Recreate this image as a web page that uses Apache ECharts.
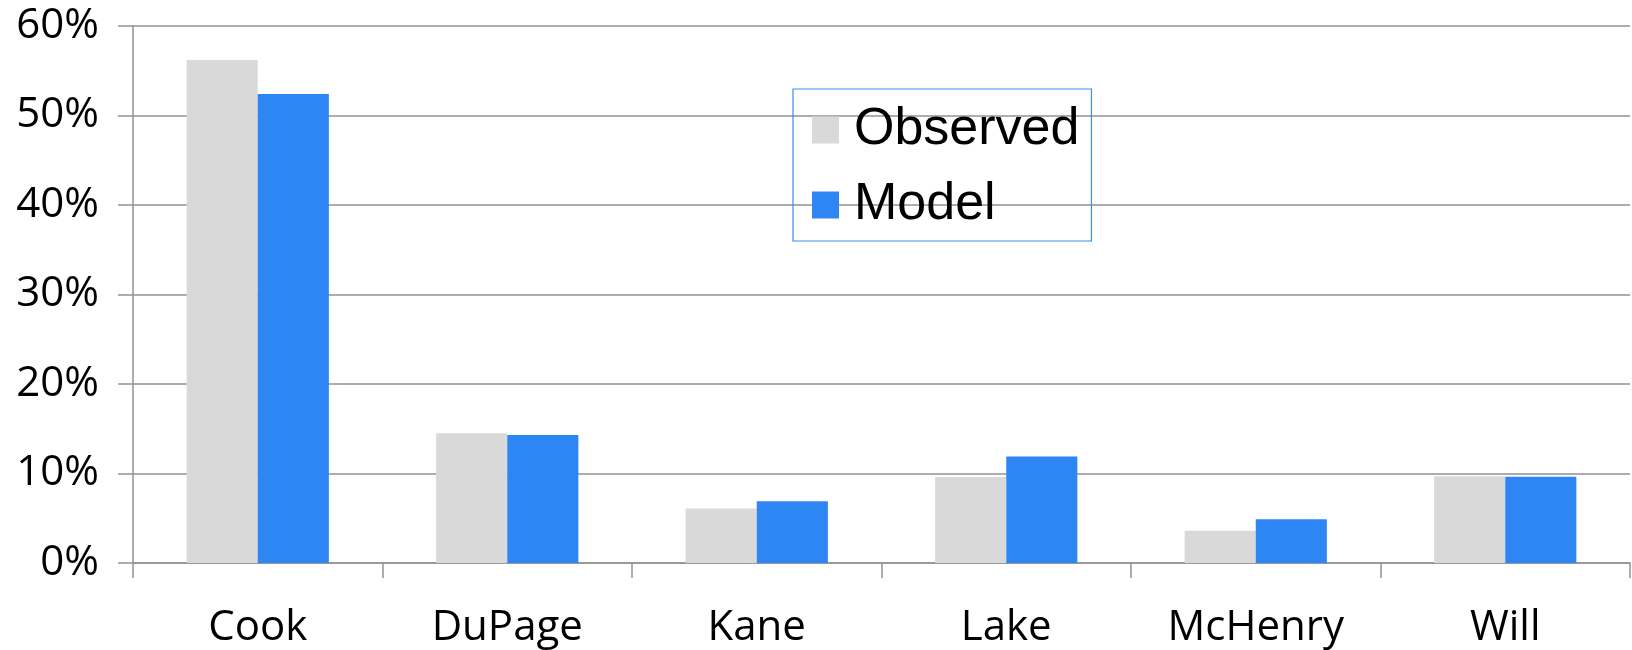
<!DOCTYPE html>
<html>
<head>
<meta charset="utf-8">
<script src="https://cdn.jsdelivr.net/npm/echarts@6/dist/echarts.min.js"></script>
<style>html,body{margin:0;padding:0;background:#fff;}#chart{width:1632px;height:650px;}</style>
</head>
<body>
<div id="chart"></div>
<script>
const categories = ['Cook', 'DuPage', 'Kane', 'Lake', 'McHenry', 'Will'];
const observed = [56.2, 14.5, 6.1, 9.6, 3.6, 9.7];
const model = [52.4, 14.3, 6.9, 11.9, 4.9, 9.65];
const yTicks = [0, 10, 20, 30, 40, 50, 60];

const chart = echarts.init(document.getElementById('chart'));
const axisColor = '#929292';
chart.setOption({
  animation: false,
  backgroundColor: '#ffffff',
  grid: { left: 133, right: 2, top: 26, bottom: 87, containLabel: false },
  legend: {
    orient: 'vertical',
    left: 793, top: 89,
    padding: [15, 12, 10, 19],
    itemGap: 23,
    itemWidth: 27, itemHeight: 27,
    icon: 'rect',
    borderColor: '#3a8ef0', borderWidth: 1.2,
    textStyle: { fontFamily: 'Liberation Sans', fontSize: 52, color: '#000', padding: [0, 0, 0, 10] },
    data: ['Observed', 'Model']
  },
  xAxis: {
    type: 'category',
    data: categories,
    axisLine: { lineStyle: { color: axisColor, width: 1.5 } },
    axisTick: { show: true, length: 15, alignWithLabel: false, lineStyle: { color: axisColor, width: 1.5 } },
    axisLabel: { fontFamily: 'Open Sans', fontSize: 42, color: '#000', margin: 44 }
  },
  yAxis: {
    type: 'value',
    min: yTicks[0], max: yTicks[yTicks.length - 1], interval: 10,
    axisLine: { show: true, lineStyle: { color: axisColor, width: 1.5 } },
    axisTick: { show: true, length: 15, lineStyle: { color: axisColor, width: 1.5 } },
    splitLine: { show: true, lineStyle: { color: axisColor, width: 1.5 } },
    axisLabel: { fontFamily: 'Open Sans', fontSize: 42, color: '#000', margin: 34, formatter: '{value}%' }
  },
  series: [
    { name: 'Observed', type: 'bar', data: observed, barGap: '0%', barCategoryGap: '43%',
      itemStyle: { color: '#d9d9d9' } },
    { name: 'Model', type: 'bar', data: model, barGap: '0%', barCategoryGap: '43%',
      itemStyle: { color: '#2e86f5' } }
  ]
});
</script>
</body>
</html>
